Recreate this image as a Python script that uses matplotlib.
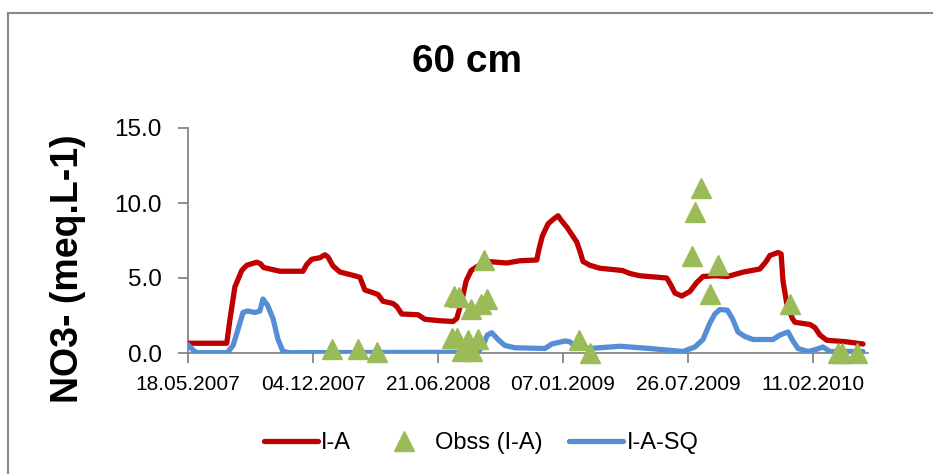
import matplotlib
matplotlib.use("Agg")
import matplotlib.pyplot as plt
from matplotlib.lines import Line2D
from matplotlib.patches import Rectangle

# --- dati (giorni dal 18.05.2007) ---
ia_days = [0, 62, 67, 75, 86, 94, 110, 116, 121, 147, 184, 190, 198, 211, 219, 224,
           232, 243, 262, 275, 283, 294, 304, 312, 328, 334, 342, 368, 379, 403, 424,
           430, 437, 445, 453, 464, 480, 510, 531, 558, 562, 567, 576, 584, 592, 598,
           606, 614, 622, 627, 632, 643, 659, 695, 707, 723, 766, 773, 779, 790, 803,
           814, 824, 843, 863, 889, 915, 925, 931, 944, 949, 952, 958, 967, 971, 995,
           1003, 1011, 1022, 1053, 1080]
ia_vals = [0.65, 0.65, 2.2, 4.4, 5.5, 5.85, 6.05, 5.95, 5.7, 5.45, 5.45, 5.9, 6.25, 6.35,
           6.55, 6.4, 5.8, 5.4, 5.2, 5.05, 4.2, 4.05, 3.9, 3.45, 3.3, 3.1, 2.6, 2.55, 2.25,
           2.15, 2.1, 2.3, 3.3, 4.8, 5.5, 5.8, 6.1, 6.0, 6.15, 6.2, 7.0, 7.8, 8.6, 8.9,
           9.15, 8.8, 8.4, 7.9, 7.4, 6.8, 6.1, 5.85, 5.65, 5.5, 5.3, 5.15, 5.0, 4.5, 4.0,
           3.8, 4.1, 4.7, 5.1, 5.15, 5.1, 5.4, 5.6, 6.1, 6.5, 6.7, 6.6, 4.8, 3.3, 2.3,
           2.05, 1.9, 1.7, 1.2, 0.85, 0.75, 0.6]

sq_days = [0, 8, 14, 63, 72, 78, 88, 95, 107, 115, 120, 127, 136, 144, 152, 163, 464,
           472, 479, 486, 496, 507, 523, 571, 582, 603, 611, 622, 643, 691, 739, 792,
           811, 824, 835, 843, 851, 863, 871, 880, 891, 904, 936, 947, 960, 968, 976,
           992, 1006, 1016, 1027, 1080]
sq_vals = [0.55, 0.2, 0.02, 0.02, 0.5, 1.3, 2.7, 2.8, 2.7, 2.8, 3.6, 3.2, 2.3, 0.9, 0.1,
           0.02, 0.05, 0.5, 1.2, 1.35, 0.9, 0.5, 0.35, 0.3, 0.6, 0.8, 0.75, 0.35, 0.3,
           0.45, 0.3, 0.1, 0.4, 0.9, 2.0, 2.6, 2.9, 2.85, 2.3, 1.4, 1.1, 0.9, 0.9, 1.2,
           1.4, 0.8, 0.3, 0.1, 0.25, 0.4, 0.1, 0.1]

obs_days = [230, 272, 302, 422, 425, 430, 434, 438, 448, 453, 454, 464, 469, 473, 478,
            626, 643, 806, 811, 821, 835, 848, 963, 1040, 1047, 1071]
obs_vals = [0.25, 0.3, 0.05, 1.0, 3.8, 1.0, 3.75, 0.15, 0.9, 2.95, 0.15, 0.95, 3.3, 6.2,
            3.6, 0.9, 0.0, 6.45, 9.4, 11.0, 3.95, 5.9, 3.3, 0.0, 0.0, 0.0]

x_ticks = [0, 200, 400, 600, 800, 1000]
x_labels = ["18.05.2007", "04.12.2007", "21.06.2008", "07.01.2009", "26.07.2009", "11.02.2010"]
y_ticks = [0, 5, 10, 15]
y_labels = ["0.0", "5.0", "10.0", "15.0"]

ROSSO = '#C00000'
BLU = '#558ED5'
VERDE = '#9BBB59'
GRIGIO = '#868686'

plt.rcParams['font.family'] = ['Liberation Sans', 'DejaVu Sans']

W, H = 933, 474
fig = plt.figure(figsize=(W / 100, H / 100), dpi=100)
ax = fig.add_axes([188 / W, 1 - 353 / H, (868 - 188) / W, (353 - 128) / H])

ax.plot(ia_days, ia_vals, color=ROSSO, lw=3.8, solid_capstyle='round', solid_joinstyle='round', zorder=3)
ax.plot(sq_days, sq_vals, color=BLU, lw=3.8, solid_capstyle='round', solid_joinstyle='round', zorder=3)
ax.plot(obs_days, obs_vals, linestyle='none', marker='^', ms=14, color=VERDE,
        mec=VERDE, clip_on=False, zorder=4)

ax.set_xlim(0, 1088)
ax.set_ylim(0, 15)
ax.set_xticks(x_ticks)
ax.set_xticklabels(x_labels, fontsize=15)
ax.set_yticks(y_ticks)
ax.set_yticklabels(y_labels, fontsize=17.5)
ax.tick_params(axis='both', direction='out', length=7, width=1.3, color=GRIGIO)
ax.tick_params(axis='y', pad=12)
ax.tick_params(axis='x', pad=9)
for s in ['top', 'right']:
    ax.spines[s].set_visible(False)
for s in ['left', 'bottom']:
    ax.spines[s].set_color(GRIGIO)
    ax.spines[s].set_linewidth(1.3)

fig.text(467 / W, 1 - 62 / H, "60 cm", ha='center', va='center', fontsize=28, weight='bold')
fig.text(68 / W, 1 - 269 / H, "NO3- (meq.L-1)", ha='center', va='center', rotation=90,
         fontsize=27, weight='bold')

handles = [
    Line2D([], [], color=ROSSO, lw=3.8, solid_capstyle='round'),
    Line2D([], [], linestyle='none', marker='^', ms=14, color=VERDE),
    Line2D([], [], color=BLU, lw=3.8, solid_capstyle='round'),
]
fig.legend(handles, ["I-A", "Obss (I-A)", "I-A-SQ"], loc='center',
           bbox_to_anchor=(481 / W, 1 - 443 / H), ncol=3, frameon=False, fontsize=17,
           handlelength=2.3, handletextpad=0.15, columnspacing=1.1)

# bordo del grafico
fig.add_artist(Rectangle((8 / W, -0.1), 1.2, 1 - 13 / H + 0.1, transform=fig.transFigure,
                         fill=False, ec=GRIGIO, lw=1.5, clip_on=False))

fig.savefig("out.png", dpi=100)
